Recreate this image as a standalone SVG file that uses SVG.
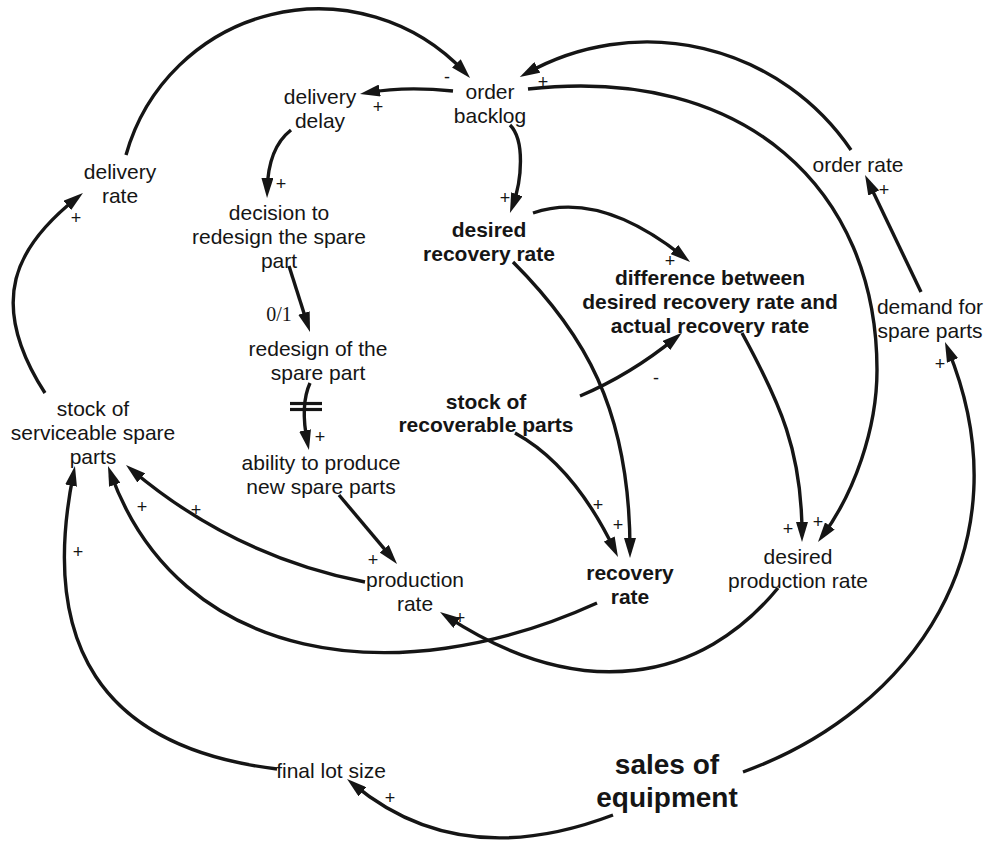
<svg xmlns="http://www.w3.org/2000/svg" width="987" height="841" viewBox="0 0 987 841">
  <defs>
    <marker id="arrow" markerUnits="userSpaceOnUse" markerWidth="20" markerHeight="12" viewBox="0 0 20 12" refX="12" refY="6" orient="auto">
      <path d="M0,0 L20,6 L0,12 Z" fill="#151515"/>
    </marker>
    <style>
      .link { fill: none; stroke: #151515; stroke-width: 3.4; marker-end: url(#arrow); }
      .bar { stroke: #151515; stroke-width: 3.2; }
      .lbl { font-family: "Liberation Sans", Arial, sans-serif; font-size: 21px; fill: #151515; text-anchor: middle; }
      .bold { font-weight: bold; }
      .big { font-size: 28px; font-weight: bold; }
      .sign { font-family: "Liberation Sans", Arial, sans-serif; font-size: 18px; fill: #151515; text-anchor: middle; }
      .serif { font-family: "Liberation Serif", "Times New Roman", serif; font-size: 20px; fill: #151515; text-anchor: middle; }
    </style>
  </defs>
  <rect width="987" height="841" fill="#ffffff"/>

  <!-- causal links -->
  <g id="links">
    <path class="link" d="M126,155 A200,200 0 0 1 464.6,72.1"/>
    <path class="link" d="M453,91 Q405,86 367.9,92.6"/>
    <path class="link" d="M291,130 Q268,148 267.2,190"/>
    <path class="link" d="M289,266 L307.6,324.4"/>
    <path class="link" d="M310,383 Q300,405 307.4,442.2"/>
    <path class="link" d="M339,495 L391.9,557.9"/>
    <path class="link" d="M365,582 Q234.5,556.5 132.1,470.2"/>
    <path class="link" d="M597,603 C395,695 179,663 110.7,473.5"/>
    <path class="link" d="M277,769 C98.8,747.4 39.7,642.4 73.4,473.8"/>
    <path class="link" d="M45,393 C-14.4,300.6 16.7,245.7 76.7,198"/>
    <path class="link" d="M510,125 C525,140 522,180 512.7,205.5"/>
    <path class="link" d="M533,213 Q600,190 683.8,257"/>
    <path class="link" d="M851,150 A246.7,246.7 0 0 0 526.8,73.2"/>
    <path class="link" d="M528,89 C745.8,64.8 877,190 877,370 C877,430 853.4,494 822.75,535.6"/>
    <path class="link" d="M921,292 L868.5,182.2"/>
    <path class="link" d="M743,772 C912.2,710.8 1028.6,546.6 948,349.4"/>
    <path class="link" d="M613,815 Q460,873 353.2,784.1"/>
    <path class="link" d="M778,588 C702.4,680.4 582.8,705.5 446.7,616.4"/>
    <path class="link" d="M580,396 Q630,375 675.7,337.9"/>
    <path class="link" d="M515,433 Q573.5,465 614.5,549.8"/>
    <path class="link" d="M513,262 C583,332 630,408 630,550"/>
    <path class="link" d="M742,333 C780.4,403.4 802,452 802,534"/>
    <!-- delay mark -->
    <line class="bar" x1="290" y1="403.5" x2="322" y2="403.5"/>
    <line class="bar" x1="290" y1="409.5" x2="322" y2="409.5"/>
  </g>

  <!-- link polarities -->
  <g id="signs">
    <text class="sign" x="447" y="83">-</text>
    <text class="sign" x="378" y="113">+</text>
    <text class="sign" x="281" y="190">+</text>
    <text class="sign" x="76" y="224">+</text>
    <text class="sign" x="505" y="204">+</text>
    <text class="sign" x="543" y="88">+</text>
    <text class="sign" x="670" y="267">+</text>
    <text class="sign" x="884" y="196">+</text>
    <text class="sign" x="320" y="443">+</text>
    <text class="sign" x="656" y="384">-</text>
    <text class="sign" x="940" y="370">+</text>
    <text class="sign" x="598" y="511">+</text>
    <text class="sign" x="618" y="531">+</text>
    <text class="sign" x="788" y="535">+</text>
    <text class="sign" x="818" y="528">+</text>
    <text class="sign" x="142" y="513">+</text>
    <text class="sign" x="196" y="516">+</text>
    <text class="sign" x="78" y="558">+</text>
    <text class="sign" x="373" y="566">+</text>
    <text class="sign" x="460" y="624">+</text>
    <text class="sign" x="390" y="804">+</text>
    <text class="serif" x="279" y="321">0/1</text>
  </g>

  <!-- variables -->
  <g id="order-backlog"><text class="lbl" x="490" y="99">order</text><text class="lbl" x="490" y="123">backlog</text></g>
  <g id="delivery-delay"><text class="lbl" x="320" y="104">delivery</text><text class="lbl" x="320" y="128">delay</text></g>
  <g id="delivery-rate"><text class="lbl" x="120" y="179">delivery</text><text class="lbl" x="120" y="203">rate</text></g>
  <g id="decision-redesign"><text class="lbl" x="279" y="220">decision to</text><text class="lbl" x="279" y="244">redesign the spare</text><text class="lbl" x="279" y="268">part</text></g>
  <g id="desired-recovery-rate"><text class="lbl bold" x="489" y="237">desired</text><text class="lbl bold" x="489" y="261">recovery rate</text></g>
  <g id="difference"><text class="lbl bold" x="710" y="285">difference between</text><text class="lbl bold" x="710" y="309">desired recovery rate and</text><text class="lbl bold" x="710" y="333">actual recovery rate</text></g>
  <g id="order-rate"><text class="lbl" x="858" y="172">order rate</text></g>
  <g id="demand"><text class="lbl" x="930" y="314">demand for</text><text class="lbl" x="930" y="338">spare parts</text></g>
  <g id="redesign"><text class="lbl" x="318" y="356">redesign of the</text><text class="lbl" x="318" y="380">spare part</text></g>
  <g id="stock-recoverable"><text class="lbl bold" x="486" y="409">stock of</text><text class="lbl bold" x="486" y="432">recoverable parts</text></g>
  <g id="stock-serviceable"><text class="lbl" x="93" y="416">stock of</text><text class="lbl" x="93" y="440">serviceable spare</text><text class="lbl" x="93" y="464">parts</text></g>
  <g id="ability"><text class="lbl" x="321" y="470">ability to produce</text><text class="lbl" x="321" y="494">new spare parts</text></g>
  <g id="production-rate"><text class="lbl" x="415" y="587">production</text><text class="lbl" x="415" y="611">rate</text></g>
  <g id="recovery-rate"><text class="lbl bold" x="630" y="580">recovery</text><text class="lbl bold" x="630" y="604">rate</text></g>
  <g id="desired-production-rate"><text class="lbl" x="798" y="564">desired</text><text class="lbl" x="798" y="588">production rate</text></g>
  <g id="final-lot-size"><text class="lbl" x="331" y="778">final lot size</text></g>
  <g id="sales"><text class="lbl big" x="667" y="774">sales of</text><text class="lbl big" x="667" y="807">equipment</text></g>
</svg>
